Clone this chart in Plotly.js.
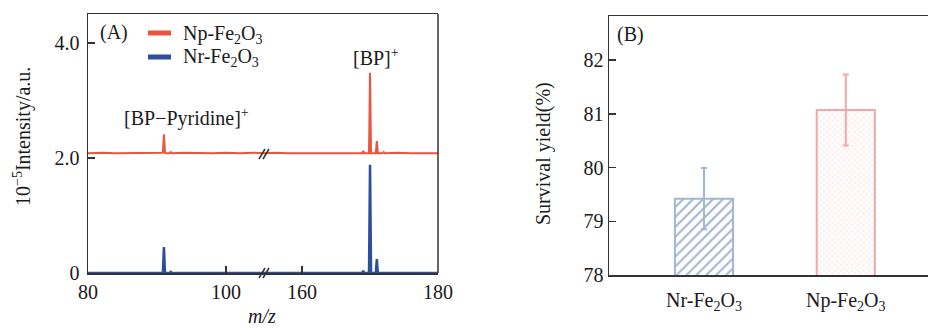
<!DOCTYPE html>
<html><head><meta charset="utf-8">
<script src="https://cdn.plot.ly/plotly-3.0.1.min.js"></script>
<style>html,body{margin:0;padding:0;background:#fff}#chart{width:928px;height:328px}</style>
</head><body><div id="chart"></div>
<script>
// ---------- Panel A: mass spectra (m/z vs 10^-5 intensity) ----------
const npLowMz  = [80, 82, 84, 86, 88, 90, 90.7, 90.85, 91, 91.15, 91.3, 91.85, 92, 92.15, 94, 96, 98, 100, 102, 104, 105.5];
const npLowInt = [2.08, 2.09, 2.08, 2.08, 2.09, 2.08, 2.08, 2.09, 2.41, 2.09, 2.08, 2.08, 2.10, 2.08, 2.09, 2.08, 2.08, 2.09, 2.08, 2.09, 2.08];
const npHighMz  = [154.4, 156, 158, 160, 162, 164, 166, 168, 168.85, 169, 169.15, 169.85, 170, 170.15, 170.85, 171, 171.15, 171.8, 172, 172.2, 174, 176, 178, 180];
const npHighInt = [2.08, 2.09, 2.08, 2.08, 2.09, 2.08, 2.08, 2.09, 2.08, 2.12, 2.08, 2.08, 3.48, 2.08, 2.08, 2.29, 2.08, 2.08, 2.10, 2.08, 2.09, 2.08, 2.08, 2.08];
const nrLowMz  = [80, 90.85, 91, 91.15, 91.85, 92, 92.15, 105.5];
const nrLowInt = [0, 0, 0.45, 0, 0, 0.02, 0, 0];
const nrHighMz  = [154.4, 168.85, 169, 169.15, 169.85, 170, 170.15, 170.85, 171, 171.15, 180];
const nrHighInt = [0, 0, 0.04, 0, 0, 1.88, 0, 0, 0.24, 0, 0];
const seriesNames = ['Np-Fe<sub>2</sub>O<sub>3</sub>', 'Nr-Fe<sub>2</sub>O<sub>3</sub>'];
const yTickVals = [0, 2, 4];
const yTickText = ['0', '2.0', '4.0'];
const xLowTicks = [80, 100];
const xHighTicks = [160, 180];

// ---------- Panel B: survival yield ----------
const yieldCats = ['Nr-Fe<sub>2</sub>O<sub>3</sub>', 'Np-Fe<sub>2</sub>O<sub>3</sub>'];
const yieldVals = [79.42, 81.07];
const yieldErr  = [0.57, 0.66];

const W = 928, H = 328, MT = 14, MB = 53;
const PH = H - MT - MB;
const px = v => v / W;
const py = v => (H - MB - v) / PH;

const RED = '#E8563E', BLUE = '#2C4F9C';
const NR_C = '#A2B7D5', NP_C = '#F2A5AA';
const AX = '#333333';
const FONT = '"Liberation Serif", "Times New Roman", serif';
const TXT = '#1a1a1a';

const traces = [
  {x: npLowMz, y: npLowInt, xaxis: 'x', yaxis: 'y', mode: 'lines', name: seriesNames[0],
   line: {color: RED, width: 2}, showlegend: false},
  {x: npHighMz, y: npHighInt, xaxis: 'x2', yaxis: 'y', mode: 'lines', name: seriesNames[0],
   line: {color: RED, width: 2}, showlegend: false},
  {x: nrLowMz, y: nrLowInt, xaxis: 'x', yaxis: 'y', mode: 'lines', name: seriesNames[1],
   line: {color: BLUE, width: 2.5}, showlegend: false},
  {x: nrHighMz, y: nrHighInt, xaxis: 'x2', yaxis: 'y', mode: 'lines', name: seriesNames[1],
   line: {color: BLUE, width: 2.5}, showlegend: false},
  {type: 'bar', x: [yieldCats[0]], y: [yieldVals[0]], xaxis: 'x3', yaxis: 'y2', width: 0.41, showlegend: false,
   marker: {color: 'white', line: {color: NR_C, width: 2},
            pattern: {shape: '/', fgcolor: NR_C, bgcolor: 'white', size: 7, solidity: 0.3}},
   error_y: {type: 'data', array: [yieldErr[0]], color: NR_C, thickness: 2, width: 3}},
  {type: 'bar', x: [yieldCats[1]], y: [yieldVals[1]], xaxis: 'x3', yaxis: 'y2', width: 0.41, showlegend: false,
   marker: {color: 'white', line: {color: NP_C, width: 2},
            pattern: {shape: 'x', fgcolor: '#FBE2E4', bgcolor: 'white', size: 4, solidity: 0.3}},
   error_y: {type: 'data', array: [yieldErr[1]], color: NP_C, thickness: 2, width: 3}}
];

const axCommon = {showline: true, linecolor: AX, linewidth: 1.5, showgrid: false, zeroline: false,
  ticks: 'inside', ticklen: 7, tickwidth: 1.5, tickcolor: AX,
  tickfont: {family: FONT, size: 20, color: TXT}};

const layout = {
  width: W, height: H,
  margin: {l: 0, r: 0, t: MT, b: MB},
  paper_bgcolor: 'white', plot_bgcolor: 'white',
  font: {family: FONT, size: 20, color: TXT},
  barmode: 'overlay',
  showlegend: false,
  xaxis: Object.assign({}, axCommon, {domain: [px(88), px(264)], range: [80, 105.5], anchor: 'y',
           tickvals: xLowTicks, ticktext: xLowTicks.map(String), mirror: true}),
  xaxis2: Object.assign({}, axCommon, {domain: [px(264), px(438)], range: [154.4, 180], anchor: 'y',
           tickvals: xHighTicks, ticktext: xHighTicks.map(String), mirror: true}),
  yaxis: Object.assign({}, axCommon, {domain: [py(273), 1], range: [0, 4.5], anchor: 'x',
           tickvals: yTickVals, ticktext: yTickText, ticklabelstandoff: 3}),
  xaxis3: Object.assign({}, axCommon, {domain: [px(609), 1], range: [-0.67, 1.58], anchor: 'y2',
           type: 'category', ticks: '', mirror: true, ticklabelstandoff: 6}),
  yaxis2: Object.assign({}, axCommon, {domain: [0, py(16)], range: [78, 82.82], anchor: 'x3',
           dtick: 1, tick0: 78}),
  shapes: [
    // right border of panel A
    {type: 'line', xref: 'x2 domain', yref: 'y domain', x0: 1, x1: 1, y0: 0, y1: 1, line: {color: AX, width: 1.5}},
    // axis break marks
    {type: 'line', xref: 'paper', yref: 'paper', x0: px(259), x1: px(265), y0: py(278), y1: py(268), line: {color: AX, width: 1.5}},
    {type: 'line', xref: 'paper', yref: 'paper', x0: px(263), x1: px(269), y0: py(278), y1: py(268), line: {color: AX, width: 1.5}},
    {type: 'line', xref: 'paper', yref: 'paper', x0: px(259), x1: px(265), y0: py(159), y1: py(149), line: {color: AX, width: 1.5}},
    {type: 'line', xref: 'paper', yref: 'paper', x0: px(263), x1: px(269), y0: py(159), y1: py(149), line: {color: AX, width: 1.5}},
    // legend samples
    {type: 'line', xref: 'paper', yref: 'paper', x0: px(148), x1: px(171), y0: py(33), y1: py(33), line: {color: RED, width: 5}},
    {type: 'line', xref: 'paper', yref: 'paper', x0: px(148), x1: px(171), y0: py(57), y1: py(57), line: {color: BLUE, width: 5}}
  ],
  annotations: [
    {text: '(A)', x: px(114), y: py(33)},
    {text: seriesNames[0], x: px(181), y: py(34), xanchor: 'left'},
    {text: seriesNames[1], x: px(181), y: py(58), xanchor: 'left'},
    {text: '[BP\u2212Pyridine]<sup>+</sup>', x: px(186), y: py(117)},
    {text: '[BP]<sup>+</sup>', x: px(376), y: py(57)},
    {text: '(B)', x: px(630), y: py(34)},
    {text: '10<sup>\u22125</sup>Intensity/a.u.', x: px(22), y: py(137), textangle: -90},
    {text: 'Survival yield(%)', x: px(543), y: py(154), textangle: -90},
    {text: '<i>m/z</i>', x: px(262), y: py(316)}
  ].map(a => Object.assign({xref: 'paper', yref: 'paper', xanchor: 'center', yanchor: 'middle', showarrow: false,
    font: {family: FONT, size: 20, color: TXT}}, a))
};

Plotly.newPlot('chart', traces, layout, {displayModeBar: false, staticPlot: true});
</script></body></html>
